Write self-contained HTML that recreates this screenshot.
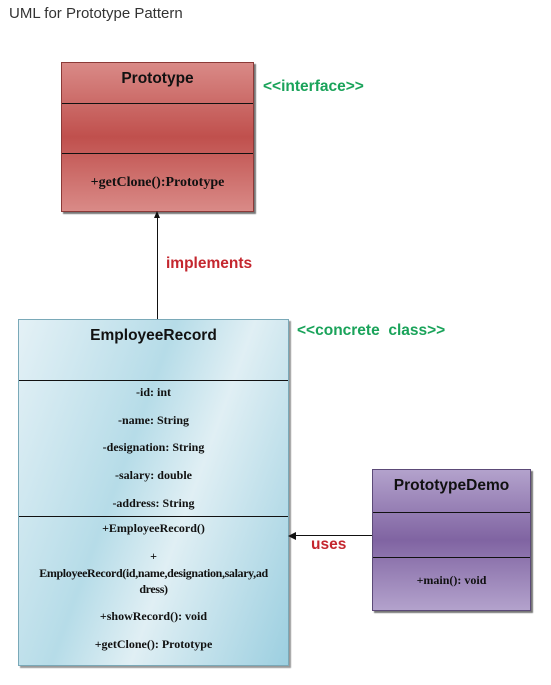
<!DOCTYPE html>
<html><head><style>
body{margin:0;width:551px;height:685px;background:#fff;position:relative;overflow:hidden;font-family:"Liberation Sans",sans-serif}
.a{position:absolute}
.t{font-family:"Liberation Serif",serif;font-weight:bold;font-size:12px;color:#111;text-align:center;position:absolute;left:0;right:0}
.h{font-family:"Liberation Sans",sans-serif;font-weight:bold;font-size:15.5px;color:#111;text-align:center;position:absolute;left:0;right:0}
.ln{position:absolute;left:0;right:0;height:1px;background:#111}
.g{color:#1aa35a;font-weight:bold;font-size:15.5px;position:absolute}
.r{color:#c4262e;font-weight:bold;font-size:15.5px;position:absolute}
</style></head><body>
<div class="a" style="left:9px;top:5px;font-size:15px;color:#333">UML for Prototype Pattern</div>

<div class="a" style="left:61px;top:62px;width:191px;height:148px;background:linear-gradient(#d98a87,#c0504d 50%,#d98a87);border:1px solid #8c3a38;box-shadow:2px 2px 1px #777">
 <div class="h" style="top:7px">Prototype</div>
 <div class="ln" style="top:40px"></div>
 <div class="ln" style="top:90px"></div>
 <div class="t" style="top:112px;font-size:14px">+getClone():Prototype</div>
</div>
<div class="g" style="left:263px;top:78px">&lt;&lt;interface&gt;&gt;</div>

<div class="a" style="left:157px;top:216px;width:1px;height:103px;background:#111"></div>
<div class="a" style="left:154px;top:211px;width:0;height:0;border-left:3.5px solid transparent;border-right:3.5px solid transparent;border-bottom:7px solid #111"></div>
<div class="r" style="left:166px;top:255px">implements</div>

<div class="a" style="left:18px;top:319px;width:269px;height:345px;background:linear-gradient(110deg,#e4f1f6 0%,#b6dce8 40%,#e0eff4 60%,#9ccfe0 100%);border:1px solid #7aa9b8;box-shadow:2px 2px 1px #999">
 <div class="h" style="top:7px">EmployeeRecord</div>
 <div class="ln" style="top:60px"></div>
 <div class="t" style="top:65px">-id: int</div>
 <div class="t" style="top:93px">-name: String</div>
 <div class="t" style="top:120px">-designation: String</div>
 <div class="t" style="top:148px">-salary: double</div>
 <div class="t" style="top:176px">-address: String</div>
 <div class="ln" style="top:196px"></div>
 <div class="t" style="top:201px">+EmployeeRecord()</div>
 <div class="t" style="top:229px">+</div>
 <div class="t" style="top:245px;line-height:16px;letter-spacing:-0.35px">EmployeeRecord(id,name,designation,salary,ad<br>dress)</div>
 <div class="t" style="top:289px">+showRecord(): void</div>
 <div class="t" style="top:317px">+getClone(): Prototype</div>
</div>
<div class="g" style="left:297px;top:322px">&lt;&lt;concrete&nbsp; class&gt;&gt;</div>

<div class="a" style="left:295px;top:535px;width:77px;height:1px;background:#111"></div>
<div class="a" style="left:288px;top:531.5px;width:0;height:0;border-top:4px solid transparent;border-bottom:4px solid transparent;border-right:8px solid #111"></div>
<div class="r" style="left:311px;top:536px">uses</div>

<div class="a" style="left:372px;top:469px;width:157px;height:140px;background:linear-gradient(#b3a2cc,#8064a2 50%,#b3a2cc);border:1px solid #5c4a78;box-shadow:2px 2px 1px #777">
 <div class="h" style="top:7px">PrototypeDemo</div>
 <div class="ln" style="top:42px"></div>
 <div class="ln" style="top:87px"></div>
 <div class="t" style="top:103px">+main(): void</div>
</div>
</body></html>
